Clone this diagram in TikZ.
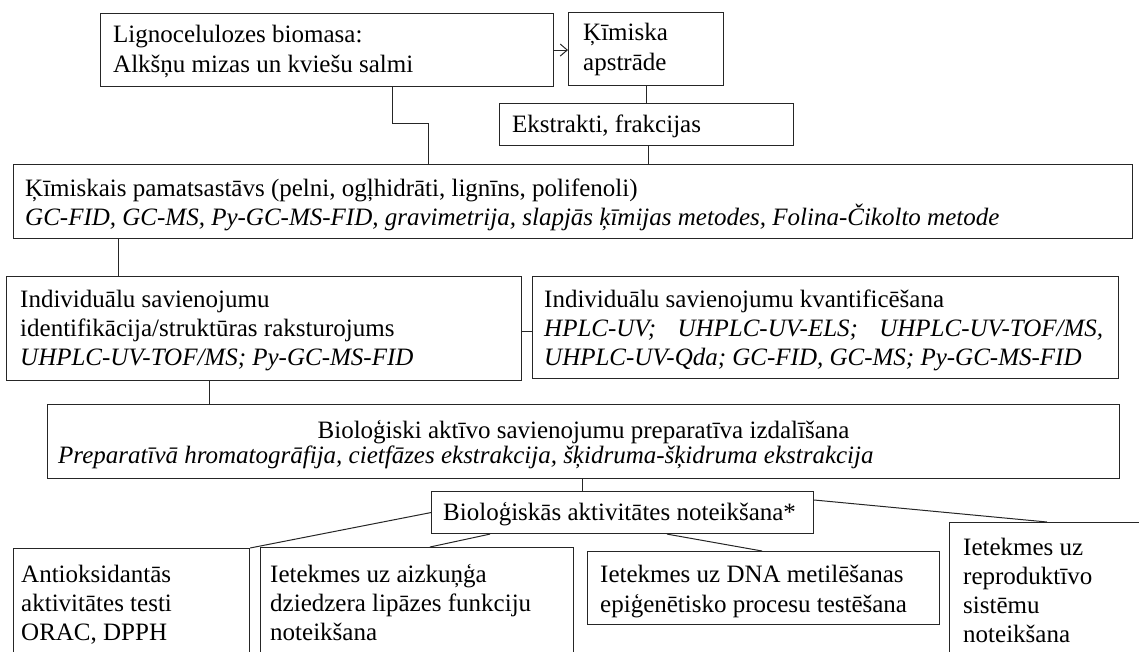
\documentclass[tikz,border=0pt]{standalone}
\usepackage{fontspec}
\setmainfont{Liberation Serif}
\usetikzlibrary{calc,arrows.meta}
\begin{document}
\begin{tikzpicture}[x=1pt,y=-1pt,
  box/.style={draw=black!85, line width=1.1pt, rectangle, inner sep=0pt, anchor=north west},
  txt/.style={inner sep=0pt, anchor=base west, font=\fontsize{25}{29}\selectfont},
  wide/.style={font=\fontsize{25}{30}\selectfont},
  tight/.style={font=\fontsize{25}{25}\selectfont},
  conn/.style={draw=black!85, line width=1pt}]
\useasboundingbox (0,0) rectangle (1139,652);
\begin{scope}
\clip (0,0) rectangle (1139,652);

% boxes
\node[box, minimum width=453, minimum height=73]  (biomasa)   at (100,13)  {};
\node[box, minimum width=155, minimum height=73]  (apstrade)  at (568,12)  {};
\node[box, minimum width=294, minimum height=42]  (ekstrakti) at (499,103) {};
\node[box, minimum width=1119, minimum height=74] (sastavs)   at (13,164)  {};
\node[box, minimum width=515, minimum height=104] (ident)     at (6,276)   {};
\node[box, minimum width=586, minimum height=102] (kvant)     at (532,276) {};
\node[box, minimum width=1072, minimum height=74] (izdal)     at (47,404)  {};
\node[box, minimum width=382, minimum height=42]  (aktiv)     at (431,491) {};
\node[box, minimum width=236, minimum height=120] (antiox)    at (13,548)  {};
\node[box, minimum width=313, minimum height=120] (lipaze)    at (260,547) {};
\node[box, minimum width=352, minimum height=73]  (dna)       at (587,551) {};
\node[box, minimum width=220, minimum height=150] (repro)     at (949,522) {};

% texts
\node[txt, wide] (biomasa-t) at ($(biomasa.north west)+(13,30)$)
  {\begin{tabular}[t]{@{}l@{}}Lignocelulozes biomasa:\\ Alkšņu mizas un kviešu salmi\end{tabular}};
\node[txt, wide] (apstrade-t) at ($(apstrade.north west)+(15,29)$)
  {\begin{tabular}[t]{@{}l@{}}Ķīmiska\\ apstrāde\end{tabular}};
\node[txt] (ekstrakti-t) at ($(ekstrakti.north west)+(13,30)$) {Ekstrakti, frakcijas};
\node[txt, tight] (sastavs-t) at ($(sastavs.north west)+(12,33)$)
  {\begin{tabular}[t]{@{}l@{}}Ķīmiskais pamatsastāvs (pelni, ogļhidrāti, lignīns, polifenoli)\\
   \itshape GC-FID, GC-MS, Py-GC-MS-FID, gravimetrija, slapjās ķīmijas metodes, Folina-Čikolto metode\end{tabular}};
\node[txt] (ident-t) at ($(ident.north west)+(14,31)$)
  {\begin{tabular}[t]{@{}l@{}}Individuālu savienojumu\\ identifikācija/struktūras raksturojums\\
   \itshape UHPLC-UV-TOF/MS; Py-GC-MS-FID\end{tabular}};
\node[txt] (kvant-t) at ($(kvant.north west)+(12,31)$)
  {\begin{tabular}[t]{@{}l@{}}Individuālu savienojumu kvantificēšana\\
   \itshape\makebox[559pt][s]{HPLC-UV; UHPLC-UV-ELS; UHPLC-UV-TOF/MS,}\\
   \itshape UHPLC-UV-Qda; GC-FID, GC-MS; Py-GC-MS-FID\end{tabular}};
\node[txt, anchor=base] (izdal-t1) at ($(izdal.north)+(0,34)$)
  {Bioloģiski aktīvo savienojumu preparatīva izdalīšana};
\node[txt] (izdal-t2) at ($(izdal.north west)+(11,59)$)
  {\itshape Preparatīvā hromatogrāfija, cietfāzes ekstrakcija, šķidruma-šķidruma ekstrakcija};
\node[txt] (aktiv-t) at ($(aktiv.north west)+(12,29)$) {Bioloģiskās aktivitātes noteikšana*};
\node[txt] (antiox-t) at ($(antiox.north west)+(8,34)$)
  {\begin{tabular}[t]{@{}l@{}}Antioksidantās\\ aktivitātes testi\\ ORAC, DPPH\end{tabular}};
\node[txt] (lipaze-t) at ($(lipaze.north west)+(10,35)$)
  {\begin{tabular}[t]{@{}l@{}}Ietekmes uz aizkuņģa\\ dziedzera lipāzes funkciju\\ noteikšana\end{tabular}};
\node[txt, wide] (dna-t) at ($(dna.north west)+(13,31)$)
  {\begin{tabular}[t]{@{}l@{}}Ietekmes uz DNA metilēšanas\\ epiģenētisko procesu testēšana\end{tabular}};
\node[txt] (repro-t) at ($(repro.north west)+(14,33)$)
  {\begin{tabular}[t]{@{}l@{}}Ietekmes uz\\ reproduktīvo\\ sistēmu\\ noteikšana\end{tabular}};

% connectors
\draw[conn, -{Straight Barb[length=7pt,width=12pt]}] (biomasa.east) -- (apstrade.west |- biomasa.east);
\coordinate (b1) at ($(biomasa.south west)+(292,0)$);
\coordinate (b2) at ($(sastavs.north west)+(415,-40)$);
\draw[conn] (b1) |- (b2) -- (b2 |- sastavs.north);
\draw[conn] (apstrade.south) -- (apstrade.south |- ekstrakti.north);
\coordinate (e1) at ($(ekstrakti.south west)+(149,0)$);
\draw[conn] (e1) -- (e1 |- sastavs.north);
\coordinate (s1) at ($(sastavs.south west)+(105,0)$);
\draw[conn] (s1) -- (s1 |- ident.north);
\coordinate (i2) at ($(ident.north east)+(0,55)$);
\draw[conn] (i2) -- (i2 -| kvant.west);
\coordinate (i1) at ($(ident.south west)+(203,0)$);
\draw[conn] (i1) -- (i1 |- izdal.north);
\coordinate (z1) at ($(izdal.south west)+(535,0)$);
\draw[conn] (z1) -- (z1 |- aktiv.north);
\draw[conn] (aktiv.west) -- (antiox.north east);
\draw[conn] ($(aktiv.south west)+(59,0)$) -- ($(lipaze.north west)+(170,0)$);
\draw[conn] ($(aktiv.south west)+(236,0)$) -- ($(dna.north west)+(175,0)$);
\draw[conn] ($(aktiv.north east)+(0,9)$) -- ($(repro.north west)+(98,0)$);
\end{scope}
\end{tikzpicture}
\end{document}
